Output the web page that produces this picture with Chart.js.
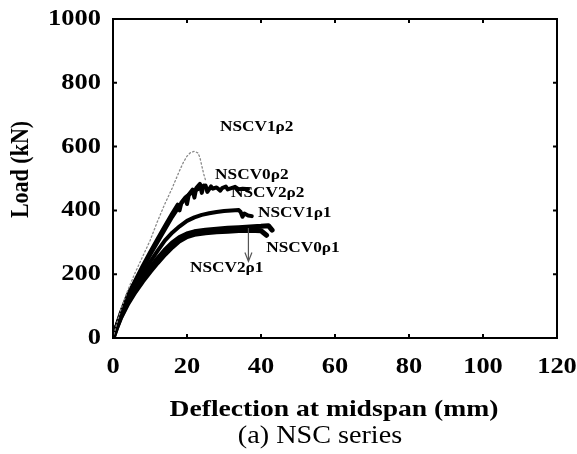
<!DOCTYPE html>
<html>
<head>
<meta charset="utf-8">
<title>NSC series</title>
<script src="https://cdn.jsdelivr.net/npm/chart.js@4/dist/chart.umd.min.js"></script>
<style>
  html, body { margin: 0; padding: 0; background: #fff; }
  #wrap { width: 577px; height: 454px; }
</style>
</head>
<body>
<div id="wrap"><canvas id="nsc" width="577" height="454"></canvas></div>
<script>
// load-deflection curves, deflection in mm, load in kN
const defl_V1p2 = [0, 1, 2, 4, 6, 8, 10, 12, 14, 16, 18, 19, 20, 21, 22, 23, 23.5, 24, 24.5, 25];
const load_V1p2 = [0, 45, 85, 150, 205, 255, 305, 365, 420, 470, 525, 550, 570, 582, 585, 580, 565, 540, 515, 495];

const defl_V0p2 = [0, 1, 2, 4, 6, 8, 10, 12, 14, 16, 17.5, 18, 18.5, 19.5, 20, 20.5, 21.5, 22, 22.5, 23.5, 24, 24.5, 25];
const load_V0p2 = [0, 40, 75, 135, 180, 225, 268, 310, 350, 390, 418, 400, 425, 440, 420, 450, 465, 440, 470, 483, 455, 478, 475];

const defl_V2p2 = [0, 1, 2, 4, 6, 8, 10, 12, 14, 16, 18, 20, 22, 24, 25, 25.5, 26.5, 27, 28, 29, 29.5, 30.5, 31, 32, 33, 34, 35, 36, 36.5];
const load_V2p2 = [0, 38, 72, 130, 175, 218, 260, 300, 340, 380, 415, 445, 462, 472, 478, 458, 475, 468, 472, 462, 470, 475, 466, 470, 474, 466, 468, 467, 467];

const defl_V1p1 = [0, 1, 2, 4, 6, 8, 10, 12, 14, 16, 18, 20, 22, 24, 26, 28, 30, 32, 34, 34.5, 35, 35.5, 36.5, 37.5];
const load_V1p1 = [0, 36, 68, 120, 162, 200, 238, 272, 305, 330, 350, 367, 378, 386, 391, 395, 398, 400, 401, 395, 380, 390, 384, 382];

const defl_V0p1 = [0, 1, 2, 4, 6, 8, 10, 12, 14, 16, 18, 20, 22, 25, 28, 31, 34, 37, 40, 42, 43];
const load_V0p1 = [0, 34, 64, 112, 150, 185, 218, 248, 275, 298, 315, 326, 333, 338, 341, 344, 346, 348, 350, 352, 338];

const defl_V2p1 = [0, 1, 2, 4, 6, 8, 10, 12, 14, 16, 18, 20, 22, 25, 28, 31, 34, 37, 40, 41.5];
const load_V2p1 = [0, 33, 62, 108, 145, 178, 208, 236, 262, 285, 305, 318, 325, 330, 333, 335, 337, 338, 336, 322];

const xTicks = [0, 20, 40, 60, 80, 100, 120];
const yTicks = [0, 200, 400, 600, 800, 1000];

// specimen names and where they are written (data units, left edge)
const specNames = ["NSCV1ρ2", "NSCV0ρ2", "NSCV2ρ2", "NSCV1ρ1", "NSCV0ρ1", "NSCV2ρ1"];
const nameAtX = [28.9, 27.6, 31.9, 39.2, 41.4, 20.8];
const nameAtY = [661, 511, 455, 392, 282, 219];

// arrow from the V0ρ1/V2ρ1 curve down to its label
const arrowX = 36.6;
const arrowFrom = 345;
const arrowTo = 240;

const SERIF = "'Liberation Serif', 'Times New Roman', serif";
const SX = 1.15; // type is a bit wide in the original print

const pts = (xs, ys) => xs.map((x, i) => ({ x: x, y: ys[i] }));

function curve(xs, ys, opts) {
  return Object.assign({
    data: pts(xs, ys),
    showLine: true,
    borderColor: "#000",
    borderWidth: 4,
    pointRadius: 0,
    tension: 0,
    borderJoinStyle: "round",
    borderCapStyle: "round"
  }, opts || {});
}

function wideText(ctx, txt, x, y, align) {
  ctx.save();
  ctx.translate(x, y);
  ctx.scale(SX, 1);
  ctx.textAlign = align || "left";
  ctx.fillText(txt, 0, 0);
  ctx.restore();
}

const framePlugin = {
  id: "frame",
  afterDraw(chart) {
    const ctx = chart.ctx;
    const a = chart.chartArea;
    const xs = chart.scales.x;
    const ys = chart.scales.y;
    ctx.save();
    ctx.strokeStyle = "#000";
    ctx.fillStyle = "#000";

    // box
    ctx.lineWidth = 2;
    ctx.strokeRect(a.left, a.top, a.right - a.left, a.bottom - a.top);

    // inward ticks on all four sides
    ctx.lineWidth = 2;
    ctx.beginPath();
    xTicks.slice(1, -1).forEach(v => {
      const px = xs.getPixelForValue(v);
      ctx.moveTo(px, a.bottom); ctx.lineTo(px, a.bottom - 4);
      ctx.moveTo(px, a.top); ctx.lineTo(px, a.top + 4);
    });
    yTicks.slice(1, -1).forEach(v => {
      const py = ys.getPixelForValue(v);
      ctx.moveTo(a.left, py); ctx.lineTo(a.left + 4, py);
      ctx.moveTo(a.right, py); ctx.lineTo(a.right - 4, py);
    });
    ctx.stroke();

    // tick labels
    ctx.font = "bold 23px " + SERIF;
    ctx.textBaseline = "middle";
    yTicks.forEach(v => wideText(ctx, String(v), a.left - 12, ys.getPixelForValue(v), "right"));
    xTicks.forEach(v => wideText(ctx, String(v), xs.getPixelForValue(v), a.bottom + 29, "center"));

    // axis titles
    ctx.font = "bold 24px " + SERIF;
    wideText(ctx, "Deflection at midspan (mm)", (a.left + a.right) / 2 - 1, a.bottom + 72, "center");
    ctx.font = "24.5px " + SERIF;
    wideText(ctx, "(a) NSC series", (a.left + a.right) / 2 - 15, a.bottom + 99, "center");

    ctx.save();
    ctx.translate(21, (a.top + a.bottom) / 2 - 9);
    ctx.rotate(-Math.PI / 2);
    ctx.scale(1, SX);
    ctx.font = "bold 22px " + SERIF;
    ctx.textAlign = "center";
    ctx.fillText("Load (kN)", 0, 0);
    ctx.restore();

    // specimen names
    ctx.font = "bold 15px " + SERIF;
    specNames.forEach((n, i) => {
      wideText(ctx, n, xs.getPixelForValue(nameAtX[i]), ys.getPixelForValue(nameAtY[i]), "left");
    });

    // arrow
    const ax = xs.getPixelForValue(arrowX);
    const y0 = ys.getPixelForValue(arrowFrom);
    const y1 = ys.getPixelForValue(arrowTo);
    ctx.strokeStyle = "#555";
    ctx.lineWidth = 1.2;
    ctx.beginPath();
    ctx.moveTo(ax, y0); ctx.lineTo(ax, y1);
    ctx.moveTo(ax - 3.5, y1 - 9); ctx.lineTo(ax, y1); ctx.lineTo(ax + 3.5, y1 - 9);
    ctx.stroke();
    ctx.restore();
  }
};

new Chart(document.getElementById("nsc"), {
  type: "scatter",
  data: {
    datasets: [
      curve(defl_V1p2, load_V1p2, { borderColor: "#8a8a8a", borderWidth: 1.3, borderDash: [1.5, 2.5] }),
      curve(defl_V0p2, load_V0p2),
      curve(defl_V2p2, load_V2p2),
      curve(defl_V1p1, load_V1p1),
      curve(defl_V0p1, load_V0p1, { borderWidth: 5 }),
      curve(defl_V2p1, load_V2p1, { borderWidth: 5 })
    ]
  },
  options: {
    responsive: false,
    animation: false,
    layout: { padding: { left: 0, right: 20, top: 19, bottom: 0 } },
    plugins: { legend: { display: false }, tooltip: { enabled: false } },
    scales: {
      x: {
        type: "linear", min: 0, max: 120,
        grid: { display: false, drawTicks: false },
        border: { display: false },
        ticks: { display: false, stepSize: 20 },
        afterFit(s) { s.height = 116; }
      },
      y: {
        type: "linear", min: 0, max: 1000,
        grid: { display: false, drawTicks: false },
        border: { display: false },
        ticks: { display: false, stepSize: 200 },
        afterFit(s) { s.width = 113; }
      }
    }
  },
  plugins: [framePlugin]
});
</script>
</body>
</html>
